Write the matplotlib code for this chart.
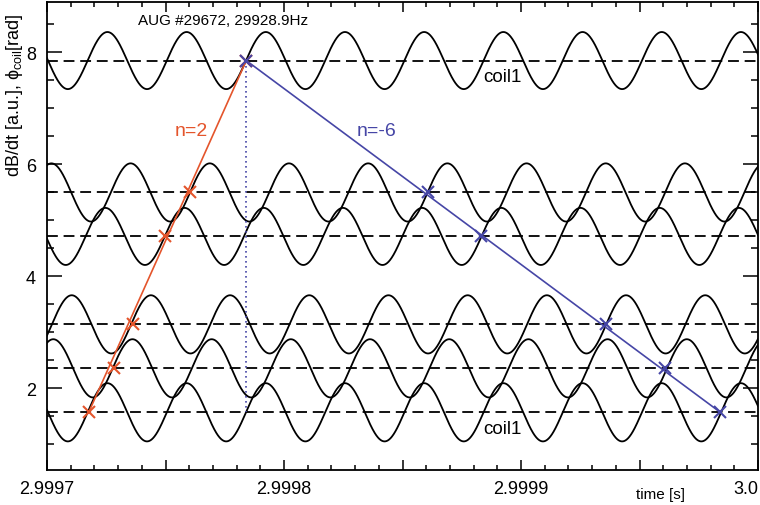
import numpy as np
import matplotlib
matplotlib.use("Agg")
import matplotlib.pyplot as plt
from matplotlib.ticker import FixedLocator, FixedFormatter, MultipleLocator

plt.rcParams['font.family'] = ['Liberation Sans', 'DejaVu Sans']
plt.rcParams['mathtext.fontset'] = 'custom'
plt.rcParams['mathtext.rm'] = 'Liberation Sans'
plt.rcParams['mathtext.it'] = 'Liberation Sans:italic'

# ---- data ----
T_START = 2.9997          # s, left edge of the time window
FREQ = 29928.9            # Hz
# coil signal baselines (phase offsets, rad)
offsets = [np.pi/2, 3*np.pi/4, np.pi, 3*np.pi/2, 7*np.pi/4, 5*np.pi/2]
amplitudes = [0.52, 0.52, 0.52, 0.51, 0.52, 0.51]
# rising zero-crossing time of each signal, microseconds after T_START
rise_us = [17.14, 27.71, 35.49, 49.68, 60.34, 17.14]
coil_labels = ["coil1", "", "", "", "", "coil1"]

# n=2 crossing points (us after T_START, phase)
n2_us = [17.6, 28.34, 36.08, 49.98, 60.34, 84.08]
n2_phase = [np.pi/2, 3*np.pi/4, np.pi, 3*np.pi/2, 7*np.pi/4, 5*np.pi/2]
# n=-6 crossing points
nm6_us = [84.08, 160.55, 183.03, 235.66, 260.93, 284.08]
nm6_phase = [5*np.pi/2, 7*np.pi/4, 3*np.pi/2, np.pi, 3*np.pi/4, np.pi/2]

xticks_major = [2.9997, 2.99975, 2.9998, 2.99985, 2.9999, 2.99995, 3.0]
xtick_labels = ["2.9997", "", "2.9998", "", "2.9999", "", "3.0"]
yticks_major = [2, 4, 6, 8]

ORANGE = "#e4552c"
BLUE = "#4646a6"

fig = plt.figure(figsize=(7.6, 5.06), dpi=100)
ax = fig.add_axes([47/760, 1-471/506, 711/760, 468/506])

t = np.linspace(T_START, 3.0, 3000)
for off, amp, r in zip(offsets, amplitudes, rise_us):
    t0 = T_START + r*1e-6
    ax.plot(t, off + amp*np.sin(2*np.pi*FREQ*(t - t0)), color='black', lw=1.3, zorder=2)
    ax.axhline(off, color='black', lw=1.3, dashes=(6, 3.2), zorder=1)

n2_t = [T_START + u*1e-6 for u in n2_us]
nm6_t = [T_START + u*1e-6 for u in nm6_us]

ax.plot([n2_t[0], n2_t[-1]], [n2_phase[0], n2_phase[-1]], color=ORANGE, lw=1.2, zorder=3)
ax.plot(n2_t, n2_phase, ls='none', marker='x', ms=9, mew=1.5, color=ORANGE, zorder=4)
ax.plot([nm6_t[0], nm6_t[-1]], [nm6_phase[0], nm6_phase[-1]], color=BLUE, lw=1.2, zorder=3)
ax.plot(nm6_t, nm6_phase, ls='none', marker='x', ms=9, mew=1.5, color=BLUE, zorder=4)
ax.plot([n2_t[-1], n2_t[-1]], [n2_phase[-1], n2_phase[0]], color=BLUE, lw=1.2,
        ls=(0, (1, 2)), zorder=3)

ax.set_xlim(T_START, 3.0)
ax.set_ylim(0.54, 8.9)

ax.xaxis.set_major_locator(FixedLocator(xticks_major))
ax.xaxis.set_major_formatter(FixedFormatter(xtick_labels))
ax.xaxis.set_minor_locator(MultipleLocator(0.00001))
ax.yaxis.set_major_locator(FixedLocator(yticks_major))
ax.yaxis.set_minor_locator(MultipleLocator(0.5))

ax.tick_params(axis='x', which='major', direction='in', length=7, width=1.1,
               top=True, labelsize=13, pad=7)
ax.tick_params(axis='x', which='minor', direction='in', length=3.8, width=1.1, top=True)
ax.tick_params(axis='y', which='major', direction='in', length=10.5, width=1.1,
               right=True, labelsize=13, pad=8)
ax.tick_params(axis='y', which='minor', direction='in', length=5, width=1.1, right=True)
for s in ax.spines.values():
    s.set_linewidth(1.3)

labels = ax.get_xticklabels()
labels[-1].set_horizontalalignment('right')

ax.set_ylabel('dB/dt [a.u.], \u03d5$_{\\mathrm{coil}}$[rad]', fontsize=13)
ax.yaxis.set_label_coords((25-47)/711, (471-95)/468)

ax.text((223.5-47)/711, (471-21)/468, "AUG #29672, 29928.9Hz", transform=ax.transAxes,
        ha='center', va='center', fontsize=11)
ax.text((502-47)/711, (471-77)/468, coil_labels[-1], transform=ax.transAxes,
        ha='center', va='center', fontsize=13.5)
ax.text((502-47)/711, (471-430)/468, coil_labels[0], transform=ax.transAxes,
        ha='center', va='center', fontsize=13.5)
ax.text((191-47)/711, (471-131)/468, "n=2", transform=ax.transAxes,
        ha='center', va='center', fontsize=14, color=ORANGE)
ax.text((377-47)/711, (471-131)/468, "n=-6", transform=ax.transAxes,
        ha='center', va='center', fontsize=14, color=BLUE)
fig.text(661/760, 1-495/506, "time [s]", ha='center', va='center', fontsize=11)

fig.savefig("out.png", dpi=100)
